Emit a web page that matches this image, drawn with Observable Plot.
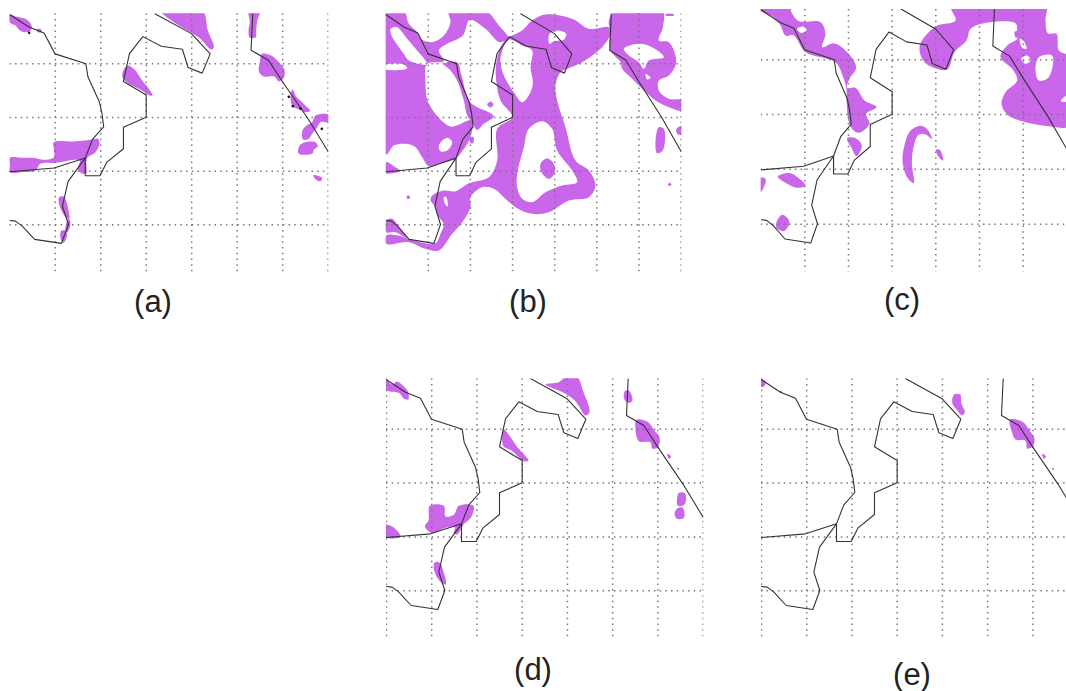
<!DOCTYPE html>
<html><head><meta charset="utf-8">
<script src="https://cdn.jsdelivr.net/npm/d3@7"></script>
<script src="https://cdn.jsdelivr.net/npm/@observablehq/plot@0.6"></script>
<style>
html,body{margin:0;padding:0;background:#fff;overflow:hidden}
#page{position:relative;width:1066px;height:691px;overflow:hidden}
.map{position:absolute;filter:blur(0.35px)}
.cap{position:absolute;transform:translate(-50%,-50%);font:31px "Liberation Sans",Arial,sans-serif;color:#222;white-space:nowrap}
</style></head><body><div id="page"></div>
<script>
const purple = "#c966ea";
const coastline = [
 [[33,28],[90,65],[135,83],[168,146],[260,176],[266,215],[300,290],[308,325],[313,366],[280,403],[258,460],[258,513],[302,513],[322,473],[372,432],[372,367],[440,337],[440,270],[372,229],[390,145],[430,94],[485,123],[548,132],[565,187],[607,204],[631,146],[575,85],[466,25]],
 [[33,501],[165,490],[258,460],[207,530],[190,605],[208,660],[187,717],[107,705],[70,665],[50,650],[33,648]],
 [[758,25],[753,135],[805,165],[847,230],[922,340],[983,440]]
];
const blobsA = [
 [[28,42],[45,48],[65,52],[82,60],[94,78],[88,92],[70,95],[56,88],[45,75],[28,66]],
 [[108,87],[120,85],[124,95],[112,95]],
 [[480,30],[605,30],[622,90],[640,140],[632,147],[600,115],[570,95],[520,65]],
 [[745,30],[778,30],[770,62],[767,92],[766,110],[748,112],[744,90],[748,65]],
 [[785,160],[812,165],[835,185],[852,208],[850,232],[835,243],[822,228],[790,228],[775,212],[778,185]],
 [[876,266],[887,288],[902,302],[922,322],[930,331],[915,335],[896,327],[878,319],[870,295]],
 [[945,345],[985,343],[990,365],[960,365],[950,380],[935,400],[925,415],[908,417],[905,392],[918,375],[935,365]],
 [[893,447],[900,432],[922,424],[945,425],[952,438],[940,447],[937,458],[915,463],[895,460]],
 [[938,524],[952,526],[965,533],[960,542],[945,536]],
 [[28,472],[60,472],[100,472],[130,478],[160,470],[160,445],[160,425],[220,423],[270,418],[292,415],[297,430],[285,455],[262,470],[258,478],[258,500],[258,518],[242,518],[232,505],[238,480],[222,478],[195,482],[165,487],[120,490],[105,510],[60,515],[28,515],[28,495]],
 [[176,590],[190,588],[198,605],[204,630],[207,655],[196,650],[184,632],[176,612]],
 [[183,690],[196,690],[199,708],[188,727],[179,708]],
 [[203,655],[210,665],[201,695],[195,692]],
 [[380,195],[400,205],[425,240],[445,265],[456,285],[448,285],[420,268],[385,250],[368,235],[365,222]],
 [[74,820],[82,820],[82,827],[74,827]]
];
const stationsA = [[86,97],[865,289],[877,317],[900,324],[964,385]];
const blobsB = [
 [[32,30],[85,30],[100,70],[125,95],[135,115],[170,125],[205,105],[225,65],[220,30],[330,30],[370,75],[398,112],[372,125],[330,85],[283,58],[262,105],[215,130],[190,150],[205,182],[155,190],[150,250],[160,310],[225,378],[288,360],[285,410],[262,450],[240,475],[190,490],[160,497],[140,470],[120,440],[90,430],[55,435],[32,462]],
 [[32,485],[55,497],[75,512],[50,518],[32,518]],
 [[440,90],[470,60],[510,42],[590,55],[640,85],[700,80],[705,100],[680,140],[620,185],[575,205],[555,215],[540,255],[545,300],[570,380],[600,480],[640,510],[660,555],[640,590],[580,600],[520,635],[470,640],[420,620],[385,590],[355,565],[320,560],[285,590],[285,620],[260,665],[230,700],[190,750],[150,745],[100,725],[32,730],[32,705],[80,708],[105,718],[180,728],[195,700],[205,670],[190,650],[180,620],[165,600],[170,585],[205,570],[240,572],[280,548],[340,530],[365,480],[365,385],[410,350],[375,300],[362,240],[362,190],[375,140],[398,112]],
 [[32,660],[50,655],[70,680],[95,712],[60,695],[32,695]],
 [[720,30],[860,30],[862,80],[850,120],[880,125],[900,165],[900,195],[880,225],[850,240],[850,270],[880,295],[925,300],[925,330],[880,320],[840,300],[800,265],[770,235],[740,205],[735,185],[705,150],[703,90],[700,60]],
 [[870,41],[895,41],[895,45],[870,45]],
 [[850,380],[865,385],[862,450],[845,458],[840,425]],
 [[903,385],[925,375],[925,403],[905,400]],
 [[335,312],[345,303],[354,312],[345,321]],
 [[284,410],[294,410],[293,428],[285,428]],
 [[93,590],[98,584],[104,590],[98,596]],
 [[877,552],[882,547],[888,552],[882,557]]
];
const holesB = [
 [[45,85],[65,80],[95,115],[125,150],[150,180],[155,192],[100,180],[85,160],[60,125],[48,105]],
 [[25,195],[85,192],[95,204],[25,205]],
 [[190,435],[215,412],[230,425],[215,450],[195,452]],
 [[400,118],[440,135],[470,150],[465,200],[472,250],[460,285],[440,305],[415,275],[385,225],[375,175]],
 [[500,362],[530,385],[545,450],[590,510],[605,545],[560,555],[510,575],[470,605],[440,595],[425,560],[425,520],[445,440],[460,385]],
 [[205,590],[212,590],[217,618],[210,612]],
 [[522,100],[545,90],[572,100],[565,118],[535,122],[522,130]],
 [[745,145],[790,130],[830,140],[865,170],[820,180],[805,205],[790,185],[760,165]],
 [[810,220],[825,232],[815,237]]
];
const islandsB = [
 [[205,190],[245,185],[258,225],[280,300],[305,320],[340,335],[355,348],[325,370],[305,388],[290,365],[275,345],[265,300],[245,240],[225,210]],
 [[515,473],[535,490],[538,515],[520,535],[498,515],[495,490]]
];
const blobsC = [
 [[25,15],[115,15],[125,40],[145,62],[210,65],[225,100],[215,140],[250,128],[290,155],[317,200],[297,235],[290,262],[315,262],[342,300],[378,320],[347,340],[357,370],[325,397],[300,378],[288,300],[288,265],[278,230],[255,185],[165,155],[130,105],[105,105],[90,75],[70,50],[25,28]],
 [[602,15],[885,15],[885,60],[892,98],[918,100],[925,150],[960,170],[960,375],[895,377],[820,364],[770,342],[753,310],[765,275],[800,240],[785,205],[750,170],[770,135],[800,115],[800,90],[795,68],[700,68],[660,85],[648,120],[612,155],[590,207],[550,202],[518,180],[508,135],[555,78],[615,60]],
 [[290,413],[315,413],[334,435],[318,467],[303,442]],
 [[510,376],[530,386],[545,415],[525,402],[505,402],[489,440],[484,490],[490,548],[468,527],[456,480],[463,430],[478,393]],
 [[556,448],[568,448],[578,480],[565,470]],
 [[82,528],[120,518],[145,533],[165,555],[140,562],[105,547]],
 [[25,533],[45,535],[40,560],[25,580]],
 [[96,643],[117,665],[100,692],[78,682],[78,665]]
];
const holesC = [
 [[140,85],[160,78],[168,90],[150,97]],
 [[865,170],[905,165],[905,205],[890,235],[865,240],[855,210]],
 [[812,175],[830,165],[840,180],[825,190]],
 [[808,115],[822,125],[828,145],[815,142]],
 [[935,295],[960,280],[960,302],[932,302]]
];
const islandsC = [[[792,95],[803,90],[806,105],[797,112]]];
const blobsD = [
 [[28,25],[50,42],[65,33],[82,45],[98,65],[98,87],[85,84],[70,67],[40,62],[28,52]],
 [[510,42],[550,35],[570,20],[605,20],[622,60],[642,125],[630,134],[600,92],[565,67]],
 [[747,63],[760,60],[771,90],[760,97],[747,87]],
 [[783,148],[815,153],[837,180],[852,200],[847,231],[830,234],[825,216],[790,212],[780,175]],
 [[875,250],[887,258],[880,265]],
 [[905,291],[912,295],[907,298]],
 [[910,367],[929,369],[928,401],[907,406]],
 [[905,414],[921,411],[926,441],[905,445],[897,430]],
 [[385,176],[401,194],[426,230],[459,270],[445,272],[409,241],[383,226]],
 [[163,406],[205,406],[210,438],[235,433],[250,406],[294,406],[287,440],[266,460],[246,491],[235,489],[238,470],[210,472],[170,487],[148,468],[159,450]],
 [[28,463],[50,468],[76,499],[28,499]],
 [[177,576],[191,576],[206,610],[211,642],[195,634],[176,600]]
];
const blobsE = [
 [[28,25],[45,33],[41,48],[28,47]],
 [[90,60],[96,65],[90,68]],
 [[610,73],[629,72],[633,100],[643,125],[635,134],[620,119],[606,100]],
 [[778,148],[815,153],[841,185],[852,205],[846,229],[830,234],[825,211],[795,207],[783,180]],
 [[875,250],[887,258],[880,265]],
 [[905,291],[912,295],[907,298]]
];
const gridColumns = {a:[1,2,3,4,5,6,7], b:[1,2,3,4,5,6,7], c:[1,2,3,4,5,6,7], d:[0,1,2,3,4,5,6,7], e:[0,1,2,3,4,5,6]};
const gridRows = [1,2,3,4];
const labels = {a:"(a)",b:"(b)",c:"(c)",d:"(d)",e:"(e)"};

const frames = {
 a:{ox:0,  oy:0,  w:340,h:290,x0:28,sx:136.4,y1:190,sy:161,  top:40,bottom:815,left:28,right:985,lx:153,ly:302},
 b:{ox:375,oy:0,  w:320,h:290,x0:32,sx:126.4,y1:190,sy:161,  top:40,bottom:815,left:32,right:919,lx:528,ly:302},
 c:{ox:750,oy:0,  w:316,h:290,x0:32,sx:131,  y1:178,sy:164.3,top:27,bottom:815,left:32,right:948,lx:902,ly:300},
 d:{ox:375,oy:370,w:340,h:290,x0:33,sx:135.7,y1:176,sy:161.7,top:25,bottom:805,left:33,right:985,lx:533,ly:670},
 e:{ox:750,oy:370,w:316,h:290,x0:33,sx:135.7,y1:176,sy:161.7,top:25,bottom:805,left:33,right:948,lx:912,ly:675}
};
const u = (f,x) => (x-f.x0)/f.sx;
const v = (f,y) => (y-f.y1)/f.sy+1;
const rows = (f,shapes) => shapes.flatMap((s,i)=>s.map(([x,y])=>({id:i,x:u(f,x),y:v(f,y)})));
const shape = (data,fill,curve="catmull-rom-closed") => Plot.line(data,{x:"x",y:"y",z:"id",fill,stroke:"none",curve,clip:true});

function panel(key,blobs,holes,islands,stations){
  const f = frames[key];
  const coast = rows(frames.d,coastline);
  const t=v(f,f.top), b=v(f,f.bottom), l=u(f,f.left), r=u(f,f.right);
  const dots = {stroke:"#777",strokeWidth:1.5,strokeDasharray:"1.5,4.2",clip:true};
  const marks = [
    shape(rows(f,blobs),purple),
    shape(rows(f,holes),"#fff"),
    shape(rows(f,islands),purple),
    Plot.ruleX(gridColumns[key],{y1:t,y2:b,...dots}),
    Plot.ruleY(gridRows,{x1:l,x2:r,...dots}),
    Plot.line(coast,{x:"x",y:"y",z:"id",stroke:"#333",strokeWidth:1.1,curve:"linear",clip:true}),
    Plot.dot(stations.map(([x,y])=>({x:u(f,x),y:v(f,y)})),{x:"x",y:"y",r:1.3,fill:"#111",stroke:"none"})
  ];
  const svg = Plot.plot({width:f.w,height:f.h,
    marginLeft:f.left/3,marginTop:f.top/3,marginRight:f.w-f.right/3,marginBottom:f.h-f.bottom/3,
    x:{domain:[l,r],axis:null},y:{domain:[b,t],axis:null},marks});
  svg.classList.add("map");
  svg.style.left=f.ox+"px"; svg.style.top=f.oy+"px"; svg.style.background="transparent";
  const page=document.getElementById("page");
  page.appendChild(svg);
  const cap=document.createElement("div");
  cap.className="cap"; cap.textContent=labels[key];
  cap.style.left=f.lx+"px"; cap.style.top=f.ly+"px";
  page.appendChild(cap);
}
panel("a",blobsA,[],[],stationsA);
panel("b",blobsB,holesB,islandsB,[]);
panel("c",blobsC,holesC,islandsC,[]);
panel("d",blobsD,[],[],[]);
panel("e",blobsE,[],[],[]);
</script></body></html>
